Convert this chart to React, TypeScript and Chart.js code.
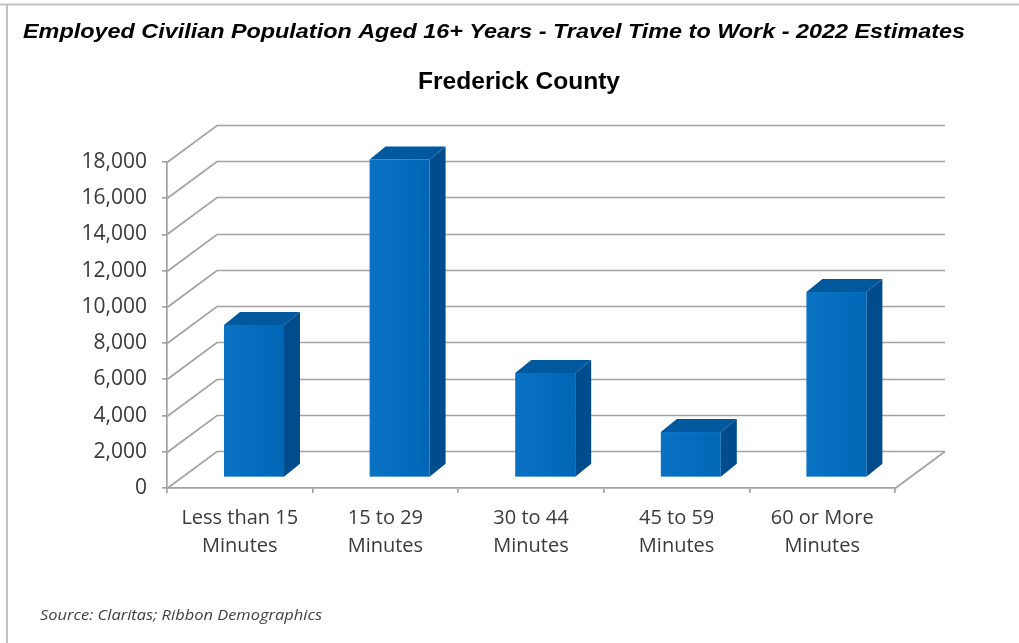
import React, { useEffect, useRef } from "react";
import { Chart, registerables } from "chart.js";

Chart.register(...registerables);

const titleText = "Employed Civilian Population Aged 16+ Years - Travel Time to Work - 2022 Estimates";
const subtitleText = "Frederick County";
const sourceText = "Source: Claritas; Ribbon Demographics";

const categories: string[][] = [
  ["Less than 15", "Minutes"],
  ["15 to 29", "Minutes"],
  ["30 to 44", "Minutes"],
  ["45 to 59", "Minutes"],
  ["60 or More", "Minutes"],
];
const travelCounts = [8420, 17560, 5770, 2510, 10240];
const yTickValues = [0, 2000, 4000, 6000, 8000, 10000, 12000, 14000, 16000, 18000];

// 3D look
const DX = 50;
const DY = -37;
const FRONT = 0.284;
const BAR_DX = 16;
const BAR_DY = -13;
const GRID = "#a2a2a2";
const TEXT = "#3a3a3a";

function fitText(ctx: CanvasRenderingContext2D, text: string, x: number, y: number, target: number) {
  const w = ctx.measureText(text).width;
  const sx = target / w;
  ctx.save();
  ctx.translate(x, y);
  ctx.scale(sx, 1);
  ctx.textAlign = "left";
  ctx.fillText(text, 0, 0);
  ctx.restore();
}

const threeDPlugin = {
  id: "threeD",
  beforeDraw(chart: any) {
    const { ctx, width, height } = chart;
    ctx.save();
    ctx.fillStyle = "#ffffff";
    ctx.fillRect(0, 0, width, height);
    // frame
    ctx.strokeStyle = "#c0c0c0";
    ctx.lineWidth = 2;
    ctx.beginPath();
    ctx.moveTo(0, 4.5);
    ctx.lineTo(width, 4.5);
    ctx.moveTo(7, 4.5);
    ctx.lineTo(7, height);
    ctx.stroke();
    // title
    ctx.fillStyle = "#000000";
    ctx.textBaseline = "alphabetic";
    ctx.font = "italic bold 21px 'Liberation Sans', Arial, sans-serif";
    fitText(ctx, titleText, 23, 38, 942);
    ctx.font = "bold 23px 'Liberation Sans', Arial, sans-serif";
    fitText(ctx, subtitleText, 418, 89, 202);
    ctx.fillStyle = "#404040";
    ctx.font = "italic 14px 'Open Sans', sans-serif";
    fitText(ctx, sourceText, 40, 620, 282);
    ctx.restore();
  },
  beforeDatasetsDraw(chart: any) {
    const { ctx, chartArea, scales } = chart;
    const y = scales.y;
    ctx.save();
    ctx.strokeStyle = GRID;
    ctx.lineWidth = 1.7;
    for (const v of yTickValues) {
      const py = Math.round(y.getPixelForValue(v)) + 0.5;
      ctx.beginPath();
      ctx.moveTo(chartArea.left, py);
      ctx.lineTo(chartArea.left + DX, py + DY);
      ctx.lineTo(chartArea.right + DX, py + DY);
      ctx.stroke();
    }
    const by = Math.round(y.getPixelForValue(0)) + 0.5;
    ctx.beginPath();
    ctx.moveTo(chartArea.right, by);
    ctx.lineTo(chartArea.right + DX, by + DY);
    ctx.stroke();
    ctx.restore();
  },
  afterDatasetsDraw(chart: any) {
    const { ctx } = chart;
    const meta = chart.getDatasetMeta(0);
    ctx.save();
    meta.data.forEach((el: any) => {
      const p = el.getProps(["x", "y", "base", "width"], true);
      const fl = p.x - p.width / 2 + FRONT * DX;
      const fr = p.x + p.width / 2 + FRONT * DX;
      const ft = p.y + FRONT * DY;
      const fb = p.base + FRONT * DY;
      // side face
      ctx.fillStyle = "#004c8c";
      ctx.beginPath();
      ctx.moveTo(fr, fb);
      ctx.lineTo(fr + BAR_DX, fb + BAR_DY);
      ctx.lineTo(fr + BAR_DX, ft + BAR_DY);
      ctx.lineTo(fr, ft);
      ctx.closePath();
      ctx.fill();
      // top face
      ctx.fillStyle = "#00589e";
      ctx.beginPath();
      ctx.moveTo(fl, ft);
      ctx.lineTo(fl + BAR_DX, ft + BAR_DY);
      ctx.lineTo(fr + BAR_DX, ft + BAR_DY);
      ctx.lineTo(fr, ft);
      ctx.closePath();
      ctx.fill();
      // front face
      const g = ctx.createLinearGradient(fl, 0, fr, 0);
      g.addColorStop(0, "#0a72c2");
      g.addColorStop(0.3, "#066fc0");
      g.addColorStop(1, "#0067b6");
      ctx.fillStyle = g;
      ctx.fillRect(fl, ft, fr - fl, fb - ft);
    });
    ctx.restore();
  },
};

export default function App() {
  const canvasRef = useRef<HTMLCanvasElement | null>(null);

  useEffect(() => {
    if (!canvasRef.current) return;
    const chart = new Chart(canvasRef.current, {
      type: "bar",
      data: {
        labels: categories,
        datasets: [
          {
            label: "Employed Civilian Population",
            data: travelCounts,
            backgroundColor: "rgba(0,0,0,0)",
            borderWidth: 0,
            barPercentage: 0.412,
            categoryPercentage: 1,
          },
        ],
      },
      options: {
        responsive: false,
        animation: false,
        layout: { padding: { top: 162, right: 124, left: 0, bottom: 0 } },
        plugins: {
          legend: { display: false },
          tooltip: { enabled: false },
          title: { display: false },
        },
        scales: {
          x: {
            grid: { drawOnChartArea: false, drawTicks: true, tickLength: 5, color: GRID, offset: true, lineWidth: 1.7 },
            border: { color: GRID, width: 1.7 },
            ticks: {
              color: TEXT,
              padding: 11,
              maxRotation: 0,
              autoSkip: false,
              font: { family: "'Open Sans', sans-serif", size: 20, lineHeight: 1.4 },
            },
            afterFit: (s: any) => {
              s.height = 155;
            },
          },
          y: {
            min: 0,
            max: 18000,
            afterBuildTicks: (s: any) => {
              s.ticks = yTickValues.map((v) => ({ value: v }));
            },
            ticks: {
              color: TEXT,
              padding: 15,
              font: { family: "'Open Sans', sans-serif", size: 21 },
              callback: (v: any) => Number(v).toLocaleString("en-US"),
            },
            grid: { drawOnChartArea: false, drawTicks: true, tickLength: 5, color: GRID, lineWidth: 1.7 },
            border: { color: GRID, width: 1.7 },
            afterFit: (s: any) => {
              s.width = 167;
            },
          },
        },
      },
      plugins: [threeDPlugin],
    });
    return () => chart.destroy();
  }, []);

  return (
    <div style={{ position: "absolute", left: 0, top: 0, width: 1019, height: 643, background: "#fff" }}>
      <canvas ref={canvasRef} width={1019} height={643} />
    </div>
  );
}
